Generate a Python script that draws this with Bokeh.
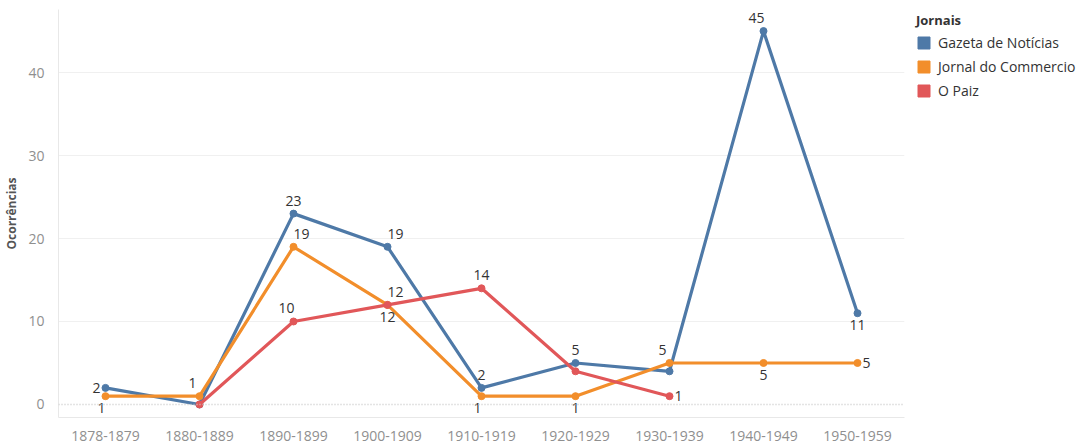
from bokeh.plotting import figure
from bokeh.models import (ColumnDataSource, Range1d, FactorRange, Span, Legend,
                          LegendItem, FixedTicker)
from bokeh.core.properties import value
from bokeh.embed import file_html
from bokeh.resources import INLINE

nan = float("nan")

decades = ["1878-1879", "1880-1889", "1890-1899", "1900-1909", "1910-1919",
           "1920-1929", "1930-1939", "1940-1949", "1950-1959"]
gazeta = [2, 0, 23, 19, 2, 5, 4, 45, 11]
jornal = [1, 1, 19, 12, 1, 1, 5, 5, 5]
paiz = [nan, 0, 10, 12, 14, 4, 1, nan, nan]
series_names = ["Gazeta de Notícias", "Jornal do Commercio", "O Paiz"]
colors = ["#4e79a7", "#f28e2b", "#e15759"]

# which points carry a label and where it sits (style only)
label_places = {
    "Gazeta de Notícias": {0: "left", 2: "above", 3: "above_right", 4: "above",
                           5: "above", 7: "above_left", 8: "below"},
    "Jornal do Commercio": {0: "below_left", 1: "above_left", 2: "above_right",
                            3: "below", 4: "below_left", 5: "below", 6: "above_left",
                            7: "below", 8: "right"},
    "O Paiz": {2: "above_left", 3: "above_right", 4: "above", 6: "right"},
}
offsets = {
    "above": (0, -8, "center", "bottom"),
    "above_right": (8, -8, "center", "bottom"),
    "above_left": (-7, -8, "center", "bottom"),
    "below": (0, 7, "center", "top"),
    "below_left": (-4, 7, "center", "top"),
    "left": (-5, 0, "right", "middle"),
    "right": (5, 0, "left", "middle"),
}

FONT = "Open Sans"

p = figure(x_range=FactorRange(*decades), y_range=Range1d(-1.57, 47.6),
           frame_width=846, frame_height=408, output_backend="svg",
           toolbar_location=None, min_border_left=52, min_border_right=170,
           min_border_top=9, min_border_bottom=27)
p.outline_line_color = None
p.background_fill_color = "white"

p.ygrid.ticker = FixedTicker(ticks=[10, 20, 30, 40])
p.ygrid.grid_line_color = "#f0f0f0"
p.xgrid.grid_line_color = None
p.add_layout(Span(location=0, dimension="width", line_color="#c8c8c8",
                  line_dash="1 2", line_width=1.5))

p.yaxis.ticker = FixedTicker(ticks=[0, 10, 20, 30, 40])
p.yaxis.axis_label = "Ocorrências"
p.yaxis.axis_label_text_font = FONT
p.yaxis.axis_label_text_font_size = "12px"
p.yaxis.axis_label_text_font_style = "bold"
p.yaxis.axis_label_text_color = "#555555"
p.yaxis.axis_label_standoff = 5
for ax in (p.xaxis, p.yaxis):
    ax.axis_line_color = "#e8e8e8"
    ax.major_tick_line_color = None
    ax.minor_tick_line_color = None
    ax.major_label_text_font = FONT
    ax.major_label_text_font_size = "14px"
    ax.major_label_text_color = "#8f8f8f"
p.yaxis.major_label_standoff = 8
p.xaxis.major_label_standoff = 7

series_vals = [gazeta, jornal, paiz]
for name, vals, col in zip(series_names, series_vals, colors):
    src = ColumnDataSource(dict(x=decades, y=vals))
    p.line("x", "y", source=src, line_color=col, line_width=3.2)
    p.scatter("x", "y", source=src, size=7, fill_color=col, line_color=col)

for name, vals, col in zip(series_names, series_vals, colors):
    for idx, place in label_places[name].items():
        dx, dy, al, bl = offsets[place]
        p.text(x=[decades[idx]], y=[vals[idx]], text=[str(int(vals[idx]))],
               x_offset=dx, y_offset=dy, text_align=al, text_baseline=bl,
               text_font=value(FONT), text_font_size="14px", text_color="#333333")

items = []
for name, col in zip(series_names, colors):
    r = p.quad(left=[nan], right=[nan], top=[nan], bottom=[nan],
               fill_color=col, line_color=col)
    items.append(LegendItem(label=name, renderers=[r]))

legend = Legend(items=items, location=(12, 317), title="Jornais",
                title_text_font=FONT,
                title_text_font_size="13px", title_text_font_style="bold",
                title_text_color="#333333", label_text_font=FONT,
                label_text_font_size="14px", label_text_color="#333333",
                glyph_width=15, glyph_height=15, label_height=15, spacing=5,
                padding=0, margin=0, border_line_color=None,
                background_fill_alpha=0, label_standoff=7, title_standoff=4)
p.add_layout(legend, "right")

open("out.html", "w").write(file_html(p, INLINE))
